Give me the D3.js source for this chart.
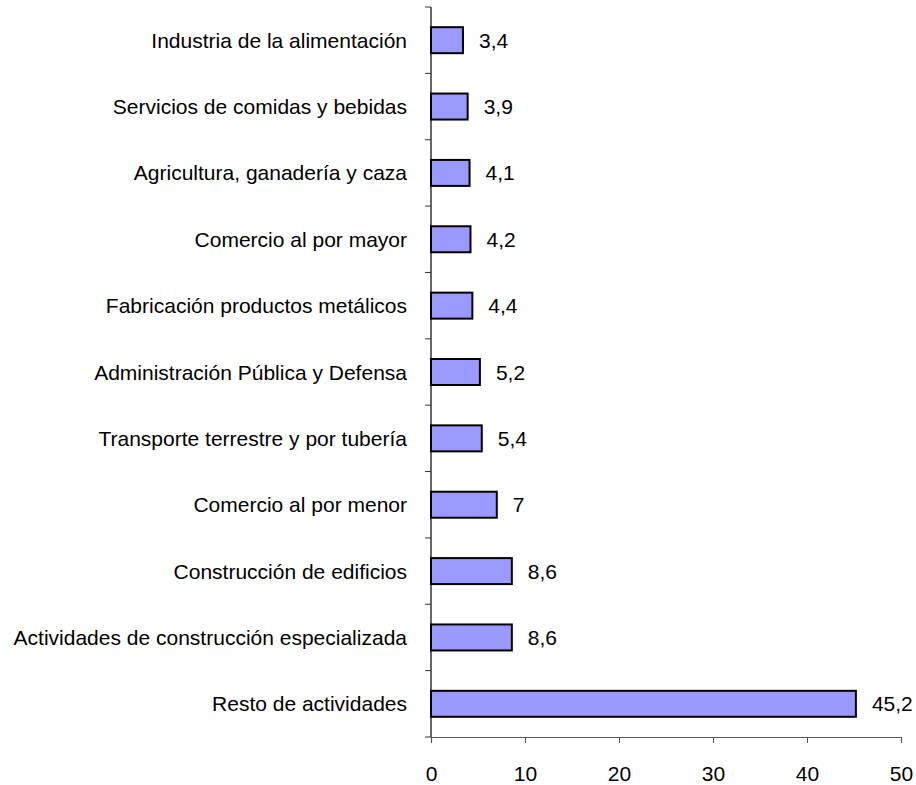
<!DOCTYPE html>
<html>
<head>
<meta charset="utf-8">
<script src="https://cdn.jsdelivr.net/npm/d3@7"></script>
<style>
  html, body { margin: 0; padding: 0; background: #fff; }
  svg { display: block; }
  text { font-family: "Liberation Sans", Arial, sans-serif; fill: #000; }
</style>
</head>
<body>
<svg id="chart" width="916" height="785"></svg>
<script>
// Sectors of activity, top to bottom
const categories = [
  "Industria de la alimentación",
  "Servicios de comidas y bebidas",
  "Agricultura, ganadería y caza",
  "Comercio al por mayor",
  "Fabricación productos metálicos",
  "Administración Pública y Defensa",
  "Transporte terrestre y por tubería",
  "Comercio al por menor",
  "Construcción de edificios",
  "Actividades de construcción especializada",
  "Resto de actividades"
];
const values = [3.4, 3.9, 4.1, 4.2, 4.4, 5.2, 5.4, 7, 8.6, 8.6, 45.2];
const xTicks = [0, 10, 20, 30, 40, 50];

const svg = d3.select("#chart");
const plotLeft = 431, plotRight = 901, plotTop = 7, plotBottom = 737;
const fontSize = 21;

const x = d3.scaleLinear().domain([0, 50]).range([plotLeft, plotRight]);
const y = d3.scaleBand().domain(categories).range([plotTop, plotBottom]).paddingInner(0).paddingOuter(0);
const barH = 26;

const fmt = v => String(v).replace(".", ",");

// Bars
svg.append("g").selectAll("rect")
  .data(values)
  .join("rect")
  .attr("x", x(0))
  .attr("y", (d, i) => y(categories[i]) + y.bandwidth() / 2 - barH / 2)
  .attr("width", d => x(d) - x(0))
  .attr("height", barH)
  .attr("fill", "#9999FF")
  .attr("stroke", "#000")
  .attr("stroke-width", 2);

// Value labels
svg.append("g").selectAll("text")
  .data(values)
  .join("text")
  .attr("x", d => x(d) + 16)
  .attr("y", (d, i) => y(categories[i]) + y.bandwidth() / 2)
  .attr("dy", "0.36em")
  .attr("font-size", fontSize)
  .text(d => fmt(d));

// Category axis: ticks sit on band boundaries
const yAxis = svg.append("g");
yAxis.append("line")
  .attr("x1", plotLeft).attr("x2", plotLeft)
  .attr("y1", plotTop).attr("y2", plotBottom)
  .attr("stroke", "#000").attr("stroke-width", 1.2);
yAxis.selectAll("line.tick")
  .data(d3.range(categories.length + 1))
  .join("line")
  .attr("class", "tick")
  .attr("x1", plotLeft - 6).attr("x2", plotLeft)
  .attr("y1", i => plotTop + i * y.step())
  .attr("y2", i => plotTop + i * y.step())
  .attr("stroke", "#333").attr("stroke-width", 1);
yAxis.selectAll("text")
  .data(categories)
  .join("text")
  .attr("x", plotLeft - 24)
  .attr("y", d => y(d) + y.bandwidth() / 2)
  .attr("dy", "0.36em")
  .attr("text-anchor", "end")
  .attr("font-size", fontSize)
  .text(d => d);

// Value axis
const xAxis = svg.append("g")
  .attr("transform", `translate(0,${plotBottom})`)
  .call(d3.axisBottom(x).tickValues(xTicks).tickSize(6).tickPadding(23).tickFormat(d3.format("d")));
xAxis.select(".domain").attr("stroke", "#555").attr("stroke-width", 1.2);
xAxis.selectAll(".tick line").attr("stroke", "#555");
xAxis.selectAll(".tick text")
  .attr("font-size", fontSize)
  .attr("font-family", "Liberation Sans, Arial, sans-serif")
  .attr("fill", "#000");
</script>
</body>
</html>
